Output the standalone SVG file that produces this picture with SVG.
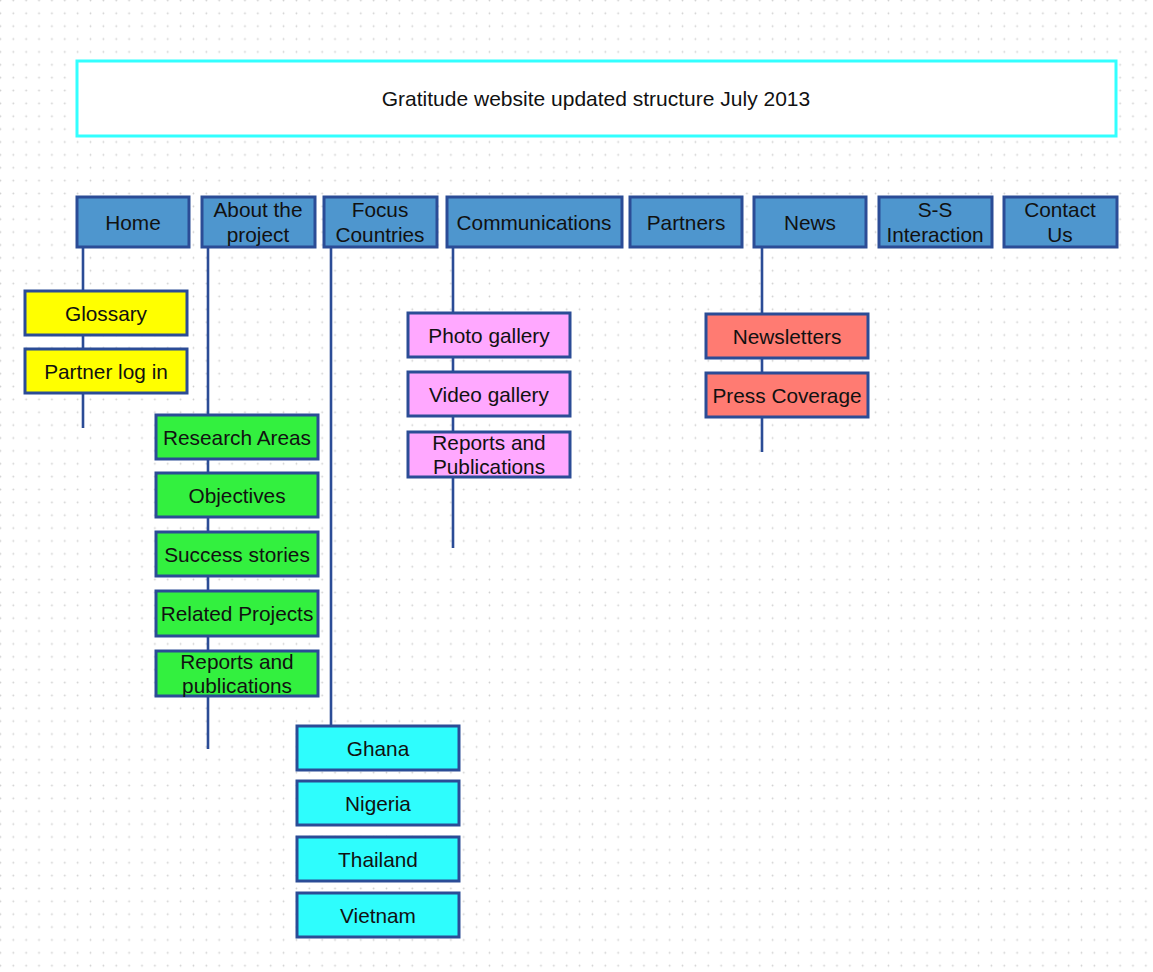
<svg xmlns="http://www.w3.org/2000/svg" width="1153" height="972" viewBox="0 0 1153 972">
<defs>
<pattern id="grid" patternUnits="userSpaceOnUse" x="6.87" y="6.87" width="12.87" height="12.87">
<circle cx="6.43" cy="6.43" r="0.9" fill="#cfcfcf"/>
</pattern>
<style>
text{font-family:"Liberation Sans",Arial,sans-serif;font-size:20.8px;fill:#111;text-anchor:middle}
.top rect{fill:#4E96CE;stroke:#2B4C96;stroke-width:3}
.y rect{fill:#FFFF00;stroke:#2B4C96;stroke-width:3}
.g rect{fill:#33F03F;stroke:#2B4C96;stroke-width:3}
.p rect{fill:#FFA8FF;stroke:#2B4C96;stroke-width:3}
.r rect{fill:#FF7B72;stroke:#2B4C96;stroke-width:3}
.c rect{fill:#2EFDFD;stroke:#2B4C96;stroke-width:3}
#connectors line{stroke:#2B4C96;stroke-width:2.6}
</style>
</defs>
<rect width="1153" height="972" fill="#fff"/>
<rect width="1153" height="972" fill="url(#grid)"/>

<g id="connectors">
<line x1="83" y1="247" x2="83" y2="428"/>
<line x1="208" y1="247" x2="208" y2="749"/>
<line x1="331" y1="247" x2="331" y2="725"/>
<line x1="453" y1="247" x2="453" y2="548"/>
<line x1="762" y1="247" x2="762" y2="452"/>
</g>

<g id="title">
<rect x="77" y="61" width="1039" height="75" fill="#fff" stroke="#33FFFF" stroke-width="3"/>
<text x="596" y="106" style="font-size:21px">Gratitude website updated structure July 2013</text>
</g>

<g id="home" class="top"><rect x="77" y="197" width="112" height="50"/><text x="133" y="229.5">Home</text></g>
<g id="about" class="top"><rect x="202" y="197" width="113" height="50"/><text x="258" y="217">About the</text><text x="258" y="241.5">project</text></g>
<g id="focus" class="top"><rect x="324" y="197" width="113" height="50"/><text x="380" y="217">Focus</text><text x="380" y="241.5">Countries</text></g>
<g id="communications" class="top"><rect x="447" y="197" width="175" height="50"/><text x="534" y="229.5">Communications</text></g>
<g id="partners" class="top"><rect x="630" y="197" width="112" height="50"/><text x="686" y="229.5">Partners</text></g>
<g id="news" class="top"><rect x="754" y="197" width="112" height="50"/><text x="810" y="229.5">News</text></g>
<g id="ss" class="top"><rect x="879" y="197" width="113" height="50"/><text x="935" y="217">S-S</text><text x="935" y="241.5">Interaction</text></g>
<g id="contact" class="top"><rect x="1004" y="197" width="113" height="50"/><text x="1060" y="217">Contact</text><text x="1060" y="241.5">Us</text></g>

<g id="glossary" class="y"><rect x="25" y="291" width="162" height="44"/><text x="106" y="320.5">Glossary</text></g>
<g id="partnerlogin" class="y"><rect x="25" y="349" width="162" height="44"/><text x="106" y="378.5">Partner log in</text></g>

<g id="research" class="g"><rect x="156" y="415" width="162" height="44"/><text x="237" y="444.5">Research Areas</text></g>
<g id="objectives" class="g"><rect x="156" y="473" width="162" height="44"/><text x="237" y="502.5">Objectives</text></g>
<g id="success" class="g"><rect x="156" y="532" width="162" height="44"/><text x="237" y="561.5">Success stories</text></g>
<g id="related" class="g"><rect x="156" y="591" width="162" height="45"/><text x="237" y="620.5">Related Projects</text></g>
<g id="reportsgreen" class="g"><rect x="156" y="651" width="162" height="45"/><text x="237" y="668.5">Reports and</text><text x="237" y="693">publications</text></g>

<g id="ghana" class="c"><rect x="297" y="726" width="162" height="44"/><text x="378" y="755.5">Ghana</text></g>
<g id="nigeria" class="c"><rect x="297" y="781" width="162" height="44"/><text x="378" y="810.5">Nigeria</text></g>
<g id="thailand" class="c"><rect x="297" y="837" width="162" height="44"/><text x="378" y="866.5">Thailand</text></g>
<g id="vietnam" class="c"><rect x="297" y="893" width="162" height="44"/><text x="378" y="922.5">Vietnam</text></g>

<g id="photo" class="p"><rect x="408" y="313" width="162" height="44"/><text x="489" y="342.5">Photo gallery</text></g>
<g id="video" class="p"><rect x="408" y="372" width="162" height="44"/><text x="489" y="401.5">Video gallery</text></g>
<g id="reportspink" class="p"><rect x="408" y="432" width="162" height="45"/><text x="489" y="449.5">Reports and</text><text x="489" y="474">Publications</text></g>

<g id="newsletters" class="r"><rect x="706" y="314" width="162" height="44"/><text x="787" y="343.5">Newsletters</text></g>
<g id="press" class="r"><rect x="706" y="373" width="162" height="44"/><text x="787" y="402.5">Press Coverage</text></g>
</svg>
